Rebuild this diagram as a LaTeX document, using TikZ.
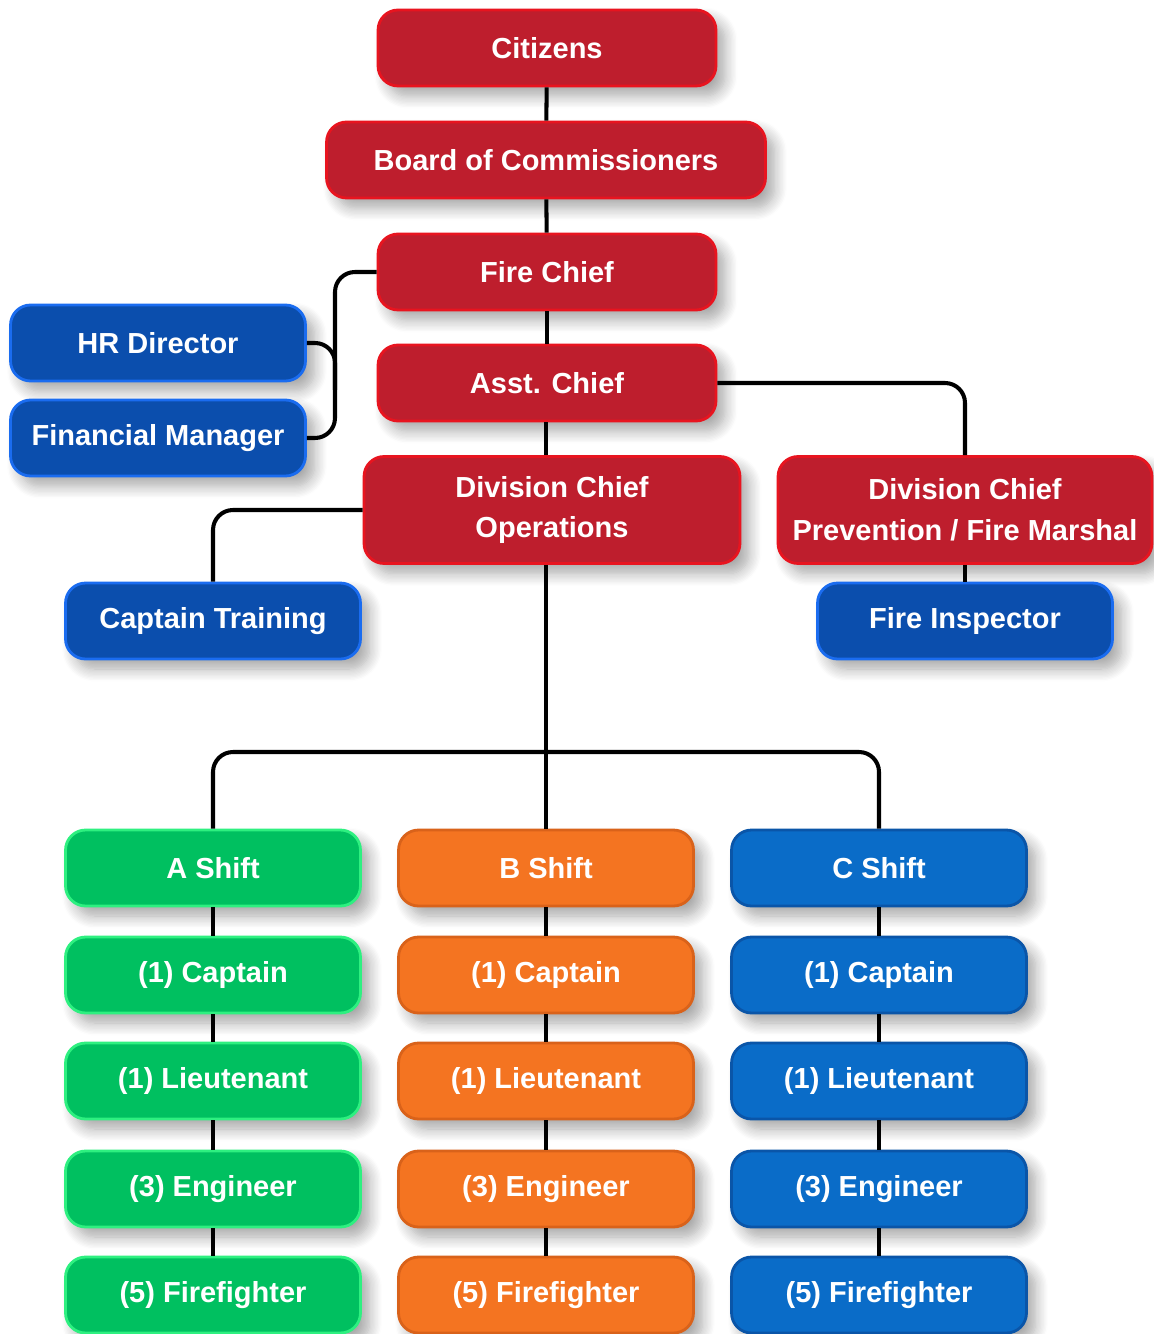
\documentclass[tikz,border=0pt]{standalone}
\usepackage{fontspec}
\setmainfont{Liberation Sans}
\usetikzlibrary{shadows.blur}
\definecolor{redfill}{HTML}{BE1E2D}
\definecolor{redline}{HTML}{E8141F}
\definecolor{navyfill}{HTML}{0B4EAD}
\definecolor{navyline}{HTML}{1A6CF0}
\definecolor{greenfill}{HTML}{00C060}
\definecolor{greenline}{HTML}{2EF080}
\definecolor{orangefill}{HTML}{F47421}
\definecolor{orangeline}{HTML}{D9621A}
\definecolor{skyfill}{HTML}{0A6CC8}
\definecolor{skyline}{HTML}{0A55A8}
\begin{document}
\begin{tikzpicture}[x=0.02cm,y=-0.02cm,
  box/.style={rounded corners=0.4cm, line width=1.6pt, text=white, align=center,
    font=\fontsize{16.5}{23.3}\selectfont\bfseries, minimum height=1.52cm,
    blur shadow={shadow xshift=0.18cm, shadow yshift=-0.2cm, shadow blur radius=0.25cm, shadow blur steps=10, shadow opacity=35}},
  redbox/.style={box, fill=redfill, draw=redline},
  navybox/.style={box, fill=navyfill, draw=navyline, minimum width=5.9cm},
  abox/.style={box, fill=greenfill, draw=greenline, minimum width=5.9cm},
  bbox/.style={box, fill=orangefill, draw=orangeline, minimum width=5.9cm},
  cbox/.style={box, fill=skyfill, draw=skyline, minimum width=5.9cm},
  link/.style={line width=2.3pt, rounded corners=0.4cm}]
\useasboundingbox (0,0) rectangle (1153,1334);
\node[redbox, minimum width=6.76cm] (cit) at (547,48) {Citizens};
\node[redbox, minimum width=8.78cm] (board) at (546,160) {Board of Commissioners};
\node[redbox, minimum width=6.76cm] (fire) at (547,272) {Fire Chief};
\node[redbox, minimum width=6.76cm] (asst) at (547,383) {Asst. Chief};
\node[navybox] (hr) at (158,343) {HR Director};
\node[navybox] (fin) at (158,438) {Financial Manager};
\node[redbox, minimum width=7.52cm, minimum height=2.14cm] (ops) at (552,510) {Division Chief\\Operations};
\node[redbox, minimum width=7.48cm, minimum height=2.14cm] (prev) at (965,510) {Division Chief\\Prevention / Fire Marshal};
\node[navybox] (train) at (213,621) {Captain Training};
\node[navybox] (insp) at (965,621) {Fire Inspector};
\node[abox] (ashift) at (213,868) {A Shift};
\node[bbox] (bshift) at (546,868) {B Shift};
\node[cbox] (cshift) at (879,868) {C Shift};
\node[abox] (acap) at (213,975) {(1) Captain};
\node[bbox] (bcap) at (546,975) {(1) Captain};
\node[cbox] (ccap) at (879,975) {(1) Captain};
\node[abox] (alt) at (213,1081) {(1) Lieutenant};
\node[bbox] (blt) at (546,1081) {(1) Lieutenant};
\node[cbox] (clt) at (879,1081) {(1) Lieutenant};
\node[abox] (aeng) at (213,1189) {(3) Engineer};
\node[bbox] (beng) at (546,1189) {(3) Engineer};
\node[cbox] (ceng) at (879,1189) {(3) Engineer};
\node[abox] (aff) at (213,1295) {(5) Firefighter};
\node[bbox] (bff) at (546,1295) {(5) Firefighter};
\node[cbox] (cff) at (879,1295) {(5) Firefighter};
\coordinate (spine) at (335,438);
\coordinate (hrjoin) at (335,390);
\coordinate (bus) at (546,752);
\draw[link] (cit) -- (board);
\draw[link] (board) -- (fire);
\draw[link] (fire) -- (asst);
\draw[link] (asst.south -| bshift.north) -- (ops.north -| bshift.north);
\draw[link] (fire.west) -| (spine) -- (fin.east);
\draw[link] (hr.east) -| (hrjoin);
\draw[link] (asst.east) -| (prev.north);
\draw[link] (ops.west) -| (train.north);
\draw[link] (prev) -- (insp);
\draw[link] (ops.south -| bshift.north) -- (bshift.north);
\draw[link] (ashift.north) |- (bus) -| (cshift.north);
\draw[link] (ashift) -- (acap);
\draw[link] (acap) -- (alt);
\draw[link] (alt) -- (aeng);
\draw[link] (aeng) -- (aff);
\draw[link] (bshift) -- (bcap);
\draw[link] (bcap) -- (blt);
\draw[link] (blt) -- (beng);
\draw[link] (beng) -- (bff);
\draw[link] (cshift) -- (ccap);
\draw[link] (ccap) -- (clt);
\draw[link] (clt) -- (ceng);
\draw[link] (ceng) -- (cff);
\end{tikzpicture}
\end{document}
